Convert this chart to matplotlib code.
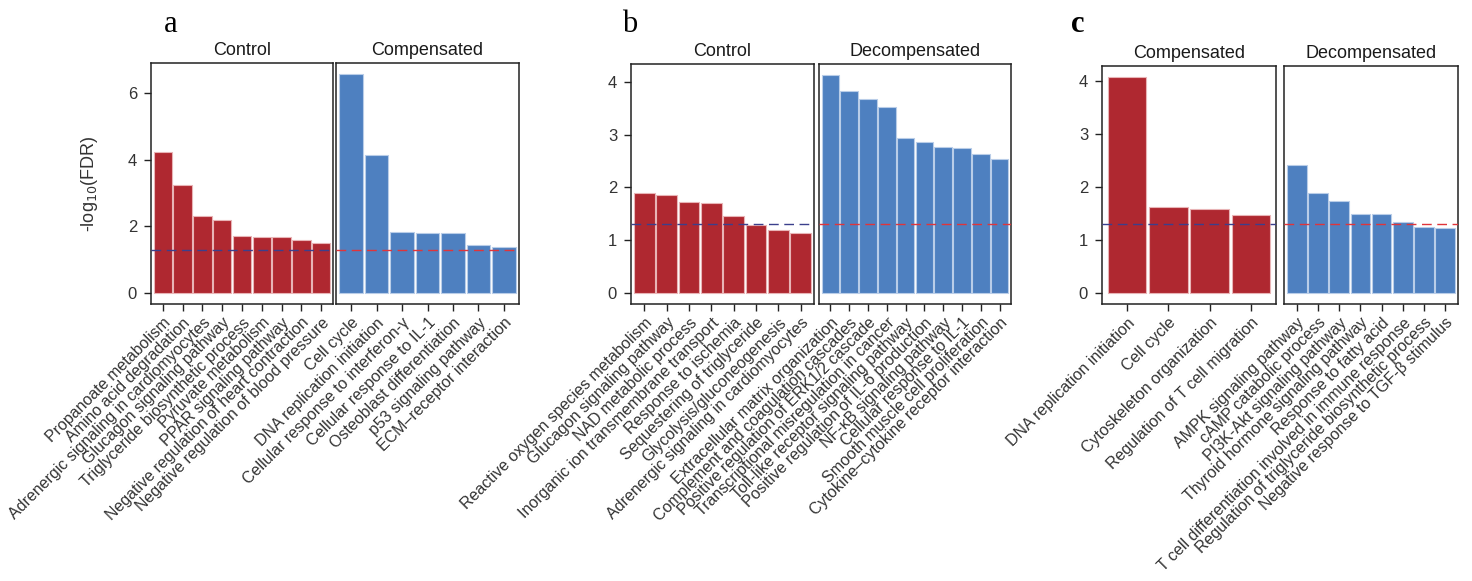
import numpy as np
import matplotlib
matplotlib.use('Agg')
import matplotlib.pyplot as plt

###############################################################################
# data (-log10 FDR)

a_ctrl_terms = ['Propanoate metabolism', 'Amino acid degradation',
                'Adrenergic signaling in cardiomyocytes', 'Glucagon signaling pathway',
                'Triglyceride biosynthetic process', 'Pyruvate metabolism',
                'PPAR signaling pathway', 'Negative regulation of heart contraction',
                'Negative regulation of blood pressure']
a_ctrl_vals = [4.23, 3.25, 2.30, 2.18, 1.71, 1.67, 1.67, 1.58, 1.50]

a_comp_terms = ['Cell cycle', 'DNA replication initiation',
                'Cellular response to interferon-γ', 'Cellular response to IL-1',
                'Osteoblast differentiation', 'p53 signaling pathway',
                'ECM–receptor interaction']
a_comp_vals = [6.57, 4.14, 1.83, 1.80, 1.80, 1.44, 1.38]

b_ctrl_terms = ['Reactive oxygen species metabolism', 'Glucagon signaling pathway',
                'NAD metabolic process', 'Inorganic ion transmembrane transport',
                'Response to ischemia', 'Sequestering of triglyceride',
                'Glycolysis/gluconeogenesis', 'Adrenergic signaling in cardiomyocytes']
b_ctrl_vals = [1.89, 1.85, 1.73, 1.71, 1.45, 1.29, 1.20, 1.14]

b_decomp_terms = ['Extracellular matrix organization', 'Complement and coagulation cascades',
                  'Positive regulation of ERK1/2 cascade', 'Transcriptional misregulation in cancer',
                  'Toll-like receptor signaling pathway', 'Positive regulation of IL-6 production',
                  'NF-κB signaling pathway', 'Cellular response to IL-1',
                  'Smooth muscle cell proliferation', 'Cytokine–cytokine receptor interaction']
b_decomp_vals = [4.13, 3.83, 3.67, 3.53, 2.94, 2.86, 2.76, 2.74, 2.64, 2.54]

c_comp_terms = ['DNA replication initiation', 'Cell cycle',
                'Cytoskeleton organization', 'Regulation of T cell migration']
c_comp_vals = [4.07, 1.62, 1.585, 1.47]

c_decomp_terms = ['AMPK signaling pathway', 'cAMP catabolic process',
                  'PI3K-Akt signaling pathway', 'Thyroid hormone signaling pathway',
                  'Response to fatty acid', 'T cell differentiation involved in immune response',
                  'Regulation of triglyceride biosynthetic process',
                  'Negative response to TGF-β stimulus']
c_decomp_vals = [2.415, 1.885, 1.74, 1.49, 1.49, 1.33, 1.25, 1.23]

threshold = -np.log10(0.05)

###############################################################################

plt.rcParams['font.family'] = ['Liberation Sans', 'DejaVu Sans']

RED = '#AF2830'
BLUE = '#4E80C0'
NAVY = '#3B3F8C'
DASHRED = '#E0343A'
TXT = '#333333'

W, H = 1472, 581
fig = plt.figure(figsize=(W / 100, H / 100), dpi=100)


def rect(x0, x1, ytop, ybot):
    return [x0 / W, 1 - ybot / H, (x1 - x0) / W, (ybot - ytop) / H]


def facet(r, title, terms, vals, color, edge, linecol, ymax, yticks, show_y):
    ax = fig.add_axes(r)
    x = np.arange(len(vals))
    ax.bar(x, vals, width=0.93, color=color, edgecolor=edge, linewidth=0.8, zorder=2)
    ax.axhline(threshold, color=linecol, lw=1.0, ls=(0, (7, 4)), zorder=3)
    ax.set_xlim(-0.6, len(vals) - 0.4)
    ax.set_ylim(-0.05 * ymax, 1.05 * ymax)
    ax.set_xticks(x)
    ax.set_xticklabels(terms, rotation=45, ha='right', va='top',
                       rotation_mode='anchor', fontsize=11.5, color=TXT)
    ax.tick_params(axis='x', length=5, width=1, pad=3, colors='#222222', labelcolor=TXT)
    if show_y:
        ax.set_yticks(yticks)
        ax.tick_params(axis='y', length=5, width=1, pad=5, labelsize=12,
                       colors='#222222', labelcolor=TXT)
    else:
        ax.set_yticks([])
    for s in ax.spines.values():
        s.set_linewidth(1.1)
        s.set_color('#222222')
    ax.set_title(title, fontsize=13, pad=6, color='#1a1a1a')
    return ax


# panel a
m = max(a_ctrl_vals + a_comp_vals)
ax_a = facet(rect(151, 333, 63, 304), 'Control', a_ctrl_terms, a_ctrl_vals,
             RED, '#E8B4B6', NAVY, m, [0, 2, 4, 6], True)
facet(rect(336, 519, 63, 304), 'Compensated', a_comp_terms, a_comp_vals,
      BLUE, '#B9CDE8', DASHRED, m, [0, 2, 4, 6], False)
ax_a.set_ylabel(r'-log$_{10}$(FDR)', fontsize=13, color=TXT, labelpad=20)

# panel b
m = max(b_ctrl_vals + b_decomp_vals)
facet(rect(631, 814, 64, 304), 'Control', b_ctrl_terms, b_ctrl_vals,
      RED, '#E8B4B6', NAVY, m, [0, 1, 2, 3, 4], True)
facet(rect(819, 1011, 64, 304), 'Decompensated', b_decomp_terms, b_decomp_vals,
      BLUE, '#B9CDE8', DASHRED, m, [0, 1, 2, 3, 4], False)

# panel c
m = max(c_comp_vals + c_decomp_vals)
facet(rect(1102, 1276, 66, 304), 'Compensated', c_comp_terms, c_comp_vals,
      RED, '#E8B4B6', NAVY, m, [0, 1, 2, 3, 4], True)
facet(rect(1284, 1458, 66, 304), 'Decompensated', c_decomp_terms, c_decomp_vals,
      BLUE, '#B9CDE8', DASHRED, m, [0, 1, 2, 3, 4], False)

# panel letters
for lab, px, w in [('a', 171, 'normal'), ('b', 630, 'normal'), ('c', 1078, 'bold')]:
    fig.text(px / W, 1 - 24 / H, lab, fontsize=22, family='Liberation Serif',
             weight=w, ha='center', va='center')

plt.savefig('out.png', dpi=100)
